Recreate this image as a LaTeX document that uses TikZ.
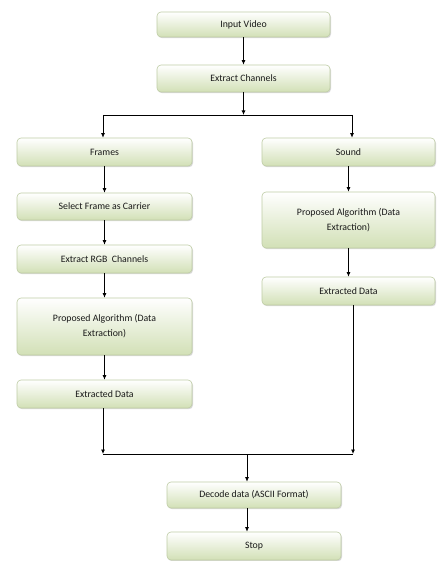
\documentclass[tikz,border=0pt]{standalone}
\usepackage{fontspec}
\setmainfont{Carlito}
\usetikzlibrary{arrows.meta,shadows}
\definecolor{boxbot}{RGB}{210,224,182}
\definecolor{boxline}{RGB}{190,204,165}
\definecolor{txt}{RGB}{25,25,25}
\begin{document}
\begin{tikzpicture}[x=1pt,y=-1pt,
  box/.style={rectangle, rounded corners=4pt, draw=boxline, line width=0.6pt,
    top color=white, bottom color=boxbot, text=txt, font=\fontsize{9.8}{12}\selectfont,
    align=center, inner sep=1pt,
    drop shadow={opacity=0.3, shadow xshift=1pt, shadow yshift=-1.2pt}},
  arr/.style={draw=black, line width=0.8pt, -{Latex[length=4.5pt,width=4pt]}},
  ln/.style={draw=black, line width=0.8pt}]
\useasboundingbox (0,0) rectangle (436,561);
\node[box, minimum width=173pt, minimum height=25pt] (in) at (243.5,24.5) {Input Video};
\node[box, minimum width=173pt, minimum height=27pt] (ec) at (243.5,78.5) {Extract Channels};
\node[box, minimum width=175pt, minimum height=28pt] (fr) at (104.5,152) {Frames};
\node[box, minimum width=175pt, minimum height=27pt] (sel) at (104.5,206.5) {Select Frame as Carrier};
\node[box, minimum width=175pt, minimum height=28pt] (rgb) at (104.5,259) {Extract RGB\ \ Channels};
\node[box, minimum width=175pt, minimum height=57pt] (pl) at (104.5,326.5) {Proposed Algorithm (Data\\[3pt]Extraction)};
\node[box, minimum width=175pt, minimum height=28pt] (exl) at (104.5,394) {Extracted Data};
\node[box, minimum width=173pt, minimum height=28pt] (snd) at (348.5,152) {Sound};
\node[box, minimum width=173pt, minimum height=56pt] (pr) at (348.5,220) {Proposed Algorithm (Data\\[3pt]Extraction)};
\node[box, minimum width=173pt, minimum height=28pt] (exr) at (348.5,291) {Extracted Data};
\node[box, minimum width=174pt, minimum height=26pt] (dec) at (254,495) {Decode data (ASCII Format)};
\node[box, minimum width=174pt, minimum height=28pt] (stop) at (254,546) {Stop};
\coordinate (j1) at (243.5,115);
\coordinate (j1l) at (103,115);
\coordinate (j1r) at (352,115);
\coordinate (j2) at (247,454);
\coordinate (j2l) at (103,454);
\coordinate (j2r) at (353,454);
\draw[arr] (in) -- (ec);
\draw[arr] (ec) -- (j1);
\draw[ln] (j1l) -- (j1r);
\draw[arr] (j1l) -- (j1l |- fr.north);
\draw[arr] (j1r) -- (j1r |- snd.north);
\draw[arr] (fr) -- (sel);
\draw[arr] (sel) -- (rgb);
\draw[arr] (rgb) -- (pl);
\draw[arr] (pl) -- (exl);
\draw[arr] (snd) -- (pr);
\draw[arr] (pr) -- (exr);
\draw[arr] (j2l |- exl.south) -- (j2l);
\draw[arr] (j2r |- exr.south) -- (j2r);
\draw[ln] (j2l) -- (j2r);
\draw[arr] (j2) -- (j2 |- dec.north);
\draw[arr] (j2 |- dec.south) -- (j2 |- stop.north);
\end{tikzpicture}
\end{document}
